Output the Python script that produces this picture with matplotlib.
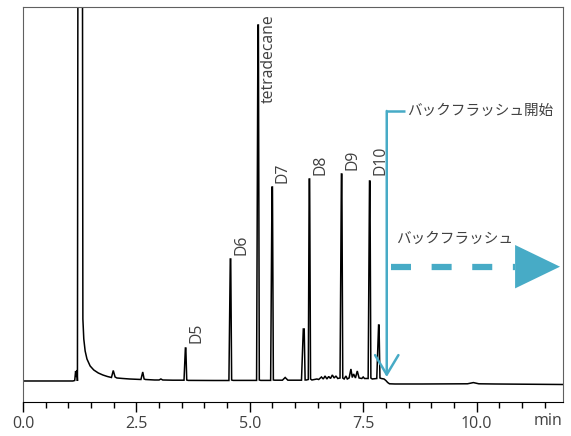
import matplotlib
matplotlib.use("Agg")
import matplotlib.pyplot as plt
from matplotlib.ticker import MultipleLocator

plt.rcParams['font.family'] = ['Open Sans', 'Noto Sans CJK JP', 'DejaVu Sans']

# Chromatogram trace: (time [min], signal [a.u.])
time = [
    0.00, 1.10, 1.14, 1.16, 1.18, 1.19, 1.20, 1.25, 1.27, 1.32, 1.34, 1.37,
    1.41, 1.48, 1.56, 1.66, 1.76, 1.86, 1.95, 1.99, 2.03, 2.07, 2.20, 2.35,
    2.60, 2.64, 2.67, 2.70, 2.90, 3.00, 3.04, 3.08, 3.30, 3.55, 3.58, 3.59,
    3.61, 3.64, 4.20, 4.54, 4.57, 4.58, 4.60, 4.63, 5.15, 5.18, 5.19, 5.21,
    5.24, 5.46, 5.49, 5.50, 5.52, 5.55, 5.72, 5.78, 5.84, 6.14, 6.18, 6.20,
    6.22, 6.25, 6.29, 6.31, 6.32, 6.34, 6.37, 6.48, 6.52, 6.58, 6.62, 6.66,
    6.70, 6.74, 6.78, 6.82, 6.86, 6.90, 6.94, 6.99, 7.02, 7.03, 7.05, 7.08,
    7.12, 7.15, 7.19, 7.23, 7.26, 7.29, 7.33, 7.37, 7.41, 7.47, 7.50, 7.53,
    7.61, 7.64, 7.65, 7.67, 7.70, 7.80, 7.84, 7.85, 7.87, 7.90, 7.96, 8.00,
    8.04, 8.08, 8.20, 8.80, 9.80, 9.93, 10.05, 10.40, 11.00, 11.90,
]
signal = [
    0.0, 0.0, 0.5, 10.0, 4.0, 11.0, 0.0, 2000.0, 2000.0, 62.0, 42.0, 30.0,
    22.0, 15.0, 11.0, 8.0, 6.0, 4.5, 3.5, 10.5, 4.0, 3.0, 2.5, 2.0,
    1.5, 9.0, 2.0, 1.5, 1.0, 1.0, 2.0, 1.0, 0.8, 0.8, 33.0, 33.0,
    1.0, 0.6, 0.5, 0.5, 122.0, 122.0, 1.0, 0.6, 0.6, 356.0, 356.0, 1.0,
    0.6, 0.6, 194.0, 194.0, 1.0, 0.8, 0.8, 3.5, 0.8, 0.8, 52.0, 52.0,
    1.0, 1.0, 1.5, 202.0, 202.0, 2.0, 1.0, 2.0, 1.5, 4.0, 2.0, 5.0,
    2.0, 4.5, 2.5, 6.0, 3.0, 5.0, 2.5, 3.0, 207.0, 207.0, 3.0, 2.0,
    5.0, 2.0, 3.0, 12.0, 3.5, 7.0, 3.0, 10.0, 3.0, 2.5, 4.0, 2.5,
    2.5, 200.0, 200.0, 3.0, 2.0, 2.5, 56.0, 56.0, 3.0, 2.5, 2.0, 0.5,
    -1.5, -2.8, -3.0, -3.0, -2.8, -1.6, -2.8, -3.0, -3.2, -3.5,
]

# Peak labels: name, retention time [min], height of label bottom
labels = ["D5", "D6", "tetradecane", "D7", "D8", "D9", "D10"]
label_times = [3.59, 4.58, 5.19, 5.50, 6.32, 7.03, 7.65]
label_heights = [38, 126, 278, 198, 206, 211, 206]

backflush_start = 8.02
backflush_text = "バックフラッシュ開始"
backflush_arrow_text = "バックフラッシュ"

blue = "#47abc6"
text_gray = "#404040"

fig = plt.figure(figsize=(5.71, 4.36), dpi=100)
ax = fig.add_axes([0.0403, 0.078, 0.9452, 0.906])

ax.plot(time, signal, color="black", lw=1.1, solid_joinstyle="miter")

for name, t, h in zip(labels, label_times, label_heights):
    ax.text(t + 0.23, h, name, rotation=90, ha="center", va="bottom",
            fontsize=11.3, color=text_gray)

# backflush start marker
ax.annotate("", xy=(backflush_start, 4), xytext=(backflush_start, 270),
            arrowprops=dict(arrowstyle="->,head_length=1.0,head_width=0.6",
                            color=blue, lw=1.8, shrinkA=0, shrinkB=0,
                            mutation_scale=14))
ax.plot([backflush_start, 8.42], [269.5, 269.5], color=blue, lw=1.8,
        solid_capstyle="butt")
ax.text(8.47, 269.5, backflush_text, ha="left", va="center",
        fontsize=10.5, color=text_gray)

# backflush direction arrow
ax.plot([8.11, 10.85], [114.3, 114.3], color=blue, lw=4.5,
        dashes=(3.2, 3.3), solid_capstyle="butt", dash_capstyle="butt")
ax.fill([10.85, 11.84, 10.85], [136.0, 114.3, 92.6], color=blue, lw=0)
ax.text(8.23, 142, backflush_arrow_text, ha="left", va="center",
        fontsize=10.5, color=text_gray)

ax.set_xlim(0, 11.9)
ax.set_ylim(-21, 374)
ax.set_yticks([])
ax.xaxis.set_major_locator(MultipleLocator(2.5))
ax.xaxis.set_minor_locator(MultipleLocator(0.5))
ax.xaxis.set_major_formatter(plt.FuncFormatter(lambda v, p: f"{v:.1f}"))
ax.tick_params(axis="x", which="major", direction="out", length=7, width=1,
               labelsize=11.5, labelcolor=text_gray, pad=3)
ax.tick_params(axis="x", which="minor", direction="out", length=4, width=1)
ax.text(1.0, -0.028, "min", transform=ax.transAxes, ha="right", va="top",
        fontsize=11.5, color=text_gray)

for side in ["top", "right", "left"]:
    ax.spines[side].set_color("#606060")
ax.spines["bottom"].set_color("black")

fig.savefig("out.png", dpi=100)
